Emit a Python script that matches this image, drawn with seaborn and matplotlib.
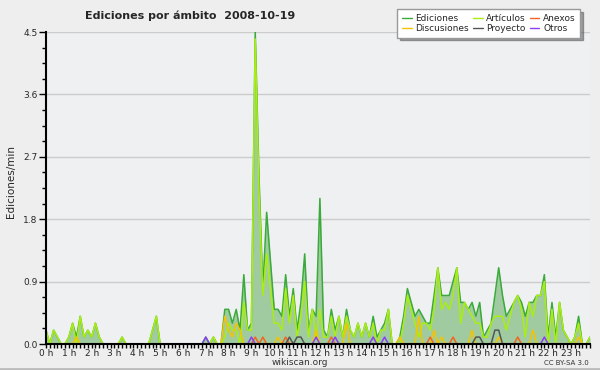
import matplotlib
matplotlib.use("Agg")
import matplotlib.pyplot as plt
from matplotlib.lines import Line2D
from matplotlib.ticker import MultipleLocator
import seaborn as sns
import numpy as np
import pandas as pd

# 10-minute slots over the day (0 .. 143)
n_slots = 144
hour_labels = [f"{h} h" for h in range(24)]
y_ticks = [0.0, 0.9, 1.8, 2.7, 3.6, 4.5]

# Ediciones per minute, one row per hour (6 slots each)
ediciones = [
    0.2, 0, 0.2, 0.1, 0, 0,
    0.1, 0.3, 0.1, 0.4, 0.1, 0.2,
    0.1, 0.3, 0.1, 0, 0, 0,
    0, 0, 0.1, 0, 0, 0,
    0, 0, 0, 0, 0.2, 0.4,
    0, 0, 0, 0, 0, 0,
    0, 0, 0, 0, 0, 0,
    0.1, 0, 0.1, 0, 0, 0.5,
    0.5, 0.3, 0.5, 0.2, 1.0, 0.2,
    0.3, 4.5, 2.4, 0.8, 1.9, 1.2,
    0.5, 0.5, 0.4, 1.0, 0.4, 0.8,
    0.2, 0.6, 1.3, 0.2, 0.5, 0.4,
    2.1, 0.2, 0.1, 0.5, 0.2, 0.4,
    0.1, 0.5, 0.2, 0.1, 0.3, 0.1,
    0.3, 0.1, 0.4, 0.1, 0.2, 0.3,
    0.5, 0, 0, 0.1, 0.4, 0.8,
    0.6, 0.4, 0.5, 0.4, 0.3, 0.3,
    0.7, 1.1, 0.7, 0.7, 0.7, 0.9,
    1.1, 0.6, 0.6, 0.5, 0.6, 0.4,
    0.6, 0.1, 0.2, 0.3, 0.7, 1.1,
    0.7, 0.4, 0.5, 0.6, 0.7, 0.6,
    0.4, 0.6, 0.6, 0.7, 0.7, 1.0,
    0.1, 0.6, 0.1, 0.6, 0.2, 0.1,
    0, 0.1, 0.4, 0, 0, 0.1,
]

articulos = [
    0.2, 0, 0.2, 0.1, 0, 0,
    0.1, 0.3, 0, 0.4, 0.1, 0.2,
    0.1, 0.3, 0.1, 0, 0, 0,
    0, 0, 0.1, 0, 0, 0,
    0, 0, 0, 0, 0.2, 0.4,
    0, 0, 0, 0, 0, 0,
    0, 0, 0, 0, 0, 0,
    0, 0, 0.1, 0, 0, 0.1,
    0.3, 0.2, 0.2, 0, 0.6, 0.2,
    0.2, 4.4, 2.2, 0.7, 1.3, 0.8,
    0.3, 0.3, 0.2, 0.8, 0.3, 0.7,
    0.1, 0.4, 0.9, 0.1, 0.5, 0.1,
    0.5, 0.1, 0.1, 0.4, 0.1, 0.4,
    0.1, 0.4, 0.2, 0.1, 0.3, 0.1,
    0.3, 0.1, 0.3, 0, 0.2, 0.2,
    0.5, 0, 0, 0, 0.3, 0.7,
    0.5, 0.3, 0.1, 0.3, 0.3, 0.2,
    0.5, 1.1, 0.5, 0.6, 0.5, 0.7,
    1.1, 0.3, 0.6, 0.5, 0.4, 0.3,
    0.3, 0.1, 0.1, 0.3, 0.4, 0.4,
    0.4, 0.2, 0.4, 0.6, 0.7, 0.5,
    0.1, 0.6, 0.4, 0.7, 0.7, 0.9,
    0, 0.5, 0, 0.6, 0.2, 0.1,
    0, 0.1, 0.3, 0, 0, 0.1,
]

# sparse series: {slot: value}
discusiones = {8: 0.1, 47: 0.4, 48: 0.2, 49: 0.1, 50: 0.3, 51: 0.2, 61: 0.1,
               71: 0.2, 79: 0.3, 93: 0.1, 98: 0.4, 102: 0.2, 104: 0.1,
               112: 0.2, 119: 0.1, 128: 0.2, 140: 0.1}
anexos = {55: 0.1, 57: 0.1, 63: 0.1, 75: 0.1, 101: 0.1, 107: 0.1, 124: 0.1}
proyecto = {64: 0.1, 66: 0.1, 67: 0.1, 113: 0.1, 114: 0.1, 118: 0.2, 119: 0.2}
otros = {42: 0.1, 54: 0.1, 71: 0.1, 76: 0.1, 86: 0.1, 89: 0.1, 131: 0.1}

colors = {
    "Ediciones": "#3aaa3a",
    "Artículos": "#aaee11",
    "Anexos": "#f26522",
    "Discusiones": "#f5c400",
    "Proyecto": "#555555",
    "Otros": "#8a3ff0",
}


def expand(d):
    arr = np.zeros(n_slots)
    for k, v in d.items():
        arr[k] = v
    return arr


slots = np.arange(n_slots)
series = {
    "Ediciones": np.array(ediciones),
    "Artículos": np.array(articulos),
    "Discusiones": expand(discusiones),
    "Anexos": expand(anexos),
    "Proyecto": expand(proyecto),
    "Otros": expand(otros),
}
df = pd.concat(
    [pd.DataFrame({"slot": slots, "valor": v, "ambito": k}) for k, v in series.items()],
    ignore_index=True,
)

sns.set_style("white")
plt.rcParams["font.family"] = ["DejaVu Sans"]

fig = plt.figure(figsize=(6, 3.7), dpi=100, facecolor="#eeeeee")
ax = fig.add_axes([46 / 600, 1 - 344 / 370, 544 / 600, 312 / 370])
ax.set_facecolor("#eef0f2")

# area under the total
ax.fill_between(slots, series["Ediciones"], color="#a0cba0", lw=0, zorder=1)

draw_order = ["Ediciones", "Artículos", "Discusiones", "Anexos", "Proyecto", "Otros"]
sns.lineplot(data=df, x="slot", y="valor", hue="ambito", hue_order=draw_order,
             palette=colors, estimator=None, legend=False, lw=1.1, ax=ax)

ax.set_xlim(0, n_slots - 1)
ax.set_ylim(0, 4.5)
ax.set_xticks(np.arange(0, n_slots, 6))
ax.set_xticklabels(hour_labels, fontsize=6.5)
ax.xaxis.set_minor_locator(MultipleLocator(1))
ax.set_yticks(y_ticks)
ax.set_yticklabels([f"{v:.1f}" for v in y_ticks], fontsize=6.5)
ax.yaxis.set_minor_locator(MultipleLocator(0.225))
ax.tick_params(axis="x", which="both", length=3, width=1, color="black",
               direction="out", pad=0.5, bottom=True)
ax.tick_params(axis="y", which="major", length=5, width=1, color="black",
               direction="out", pad=1, left=True)
ax.tick_params(axis="y", which="minor", length=3, width=1, color="black",
               direction="out", left=True)
ax.grid(axis="y", color="#cccccc", lw=1)
ax.set_xlabel("")
ax.set_ylabel("")
for side in ["top", "right"]:
    ax.spines[side].set_visible(False)
for side in ["left", "bottom"]:
    ax.spines[side].set_color("black")
    ax.spines[side].set_linewidth(1.5)

fig.text(0.142, 0.957, "Ediciones por ámbito  2008-10-19", fontsize=8,
         fontweight="bold", va="center", ha="left")
fig.text(0.018, 0.51, "Ediciones/min", rotation=90, fontsize=7.5,
         va="center", ha="center")
fig.text(0.5, 0.019, "wikiscan.org", fontsize=6.5, color="#333333",
         ha="center", va="center")
fig.text(0.982, 0.019, "CC BY-SA 3.0", fontsize=5, color="#333333",
         ha="right", va="center")

legend_order = ["Ediciones", "Discusiones", "Artículos", "Proyecto", "Anexos", "Otros"]
handles = [Line2D([0], [0], color=colors[k], lw=1) for k in legend_order]
leg = fig.legend(handles, legend_order, loc="upper right", ncol=3,
                 bbox_to_anchor=(0.967, 0.975), fontsize=6.5, frameon=True,
                 fancybox=False, shadow=True, handlelength=1.1,
                 handletextpad=0.4, columnspacing=0.4, labelspacing=0.15,
                 borderpad=0.5, borderaxespad=0)
leg.get_frame().set_edgecolor("#999999")
leg.get_frame().set_facecolor("white")

fig.add_artist(Line2D([0, 1], [0.004, 0.004], color="#bbbbbb", lw=2,
                      transform=fig.transFigure))

fig.savefig("out.png", dpi=100, facecolor=fig.get_facecolor())
